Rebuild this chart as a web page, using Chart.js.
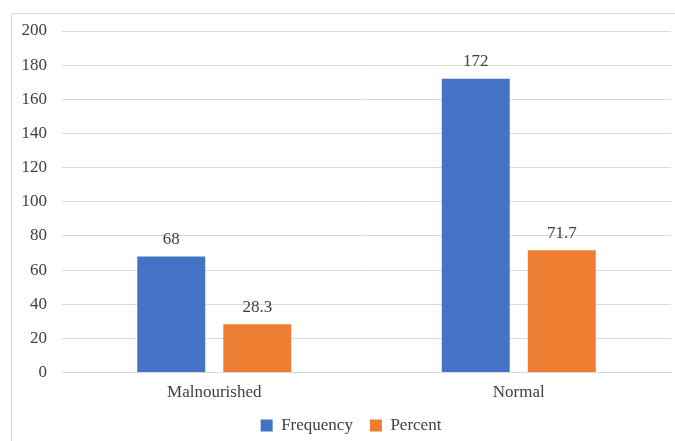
<!DOCTYPE html>
<html>
<head>
<meta charset="utf-8">
<script src="https://cdn.jsdelivr.net/npm/chart.js@4.4.0/dist/chart.umd.min.js"></script>
<style>
  html, body { margin: 0; padding: 0; background: #fff; overflow: hidden; width: 675px; height: 441px; }
  #frame { position: absolute; left: 11px; top: 13px; width: 678px; height: 434px; border: 1px solid #d9d9d9; background: #fff; }
  #frame canvas { display: block; }
</style>
</head>
<body>
<div id="frame"><canvas id="c" width="678" height="434"></canvas></div>
<script>
const categories = ["Malnourished", "Normal"];
const frequencyValues = [68, 172];
const percentValues = [28.3, 71.7];
const frequencyLabels = ["68", "172"];
const percentLabels = ["28.3", "71.7"];
const yTicks = [0, 20, 40, 60, 80, 100, 120, 140, 160, 180, 200];

const FONT = "'Liberation Serif'";
const TEXT = "#404040";

const valueLabels = {
  id: 'valueLabels',
  afterDatasetsDraw(chart) {
    const ctx = chart.ctx;
    ctx.save();
    ctx.font = "17px 'Liberation Serif'";
    ctx.fillStyle = TEXT;
    ctx.textAlign = 'center';
    ctx.textBaseline = 'middle';
    const texts = [frequencyLabels, percentLabels];
    chart.data.datasets.forEach((ds, di) => {
      const meta = chart.getDatasetMeta(di);
      meta.data.forEach((bar, i) => {
        ctx.fillText(texts[di][i], bar.x, bar.y - 17);
      });
    });
    ctx.restore();
  }
};

function build() {
  new Chart(document.getElementById('c'), {
    type: 'bar',
    data: {
      labels: categories,
      datasets: [
        { label: 'Frequency', data: frequencyValues, backgroundColor: '#4472C4',
          categoryPercentage: 0.565, barPercentage: 0.79 },
        { label: 'Percent', data: percentValues, backgroundColor: '#ED7D31',
          categoryPercentage: 0.565, barPercentage: 0.79 }
      ]
    },
    options: {
      responsive: false,
      animation: false,
      devicePixelRatio: 1,
      layout: { padding: { left: 0, right: 0, top: 17, bottom: 4 } },
      plugins: {
        legend: {
          position: 'bottom',
          labels: {
            font: { family: FONT, size: 17 },
            color: TEXT,
            boxWidth: 12,
            boxHeight: 12,
            padding: 17
          }
        },
        tooltip: { enabled: false }
      },
      scales: {
        x: {
          grid: { display: false, drawTicks: false },
          border: { display: true, color: '#d9d9d9', width: 1 },
          ticks: { font: { family: FONT, size: 17 }, color: TEXT, padding: 10 },
          afterFit(scale) { scale.height -= 13; }
        },
        y: {
          min: 0, max: 200,
          afterBuildTicks(scale) { scale.ticks = yTicks.map(v => ({ value: v })); },
          afterFit(scale) { scale.width = 50; scale.paddingTop = 10; },
          grid: { color: '#d9d9d9', drawTicks: false, lineWidth: 1 },
          border: { display: false },
          ticks: { font: { family: FONT, size: 17 }, color: TEXT, padding: 15 }
        },
        yRight: {
          type: 'linear',
          position: 'right',
          min: 0, max: 200,
          grid: { display: false, drawTicks: false },
          border: { display: false },
          ticks: { display: false },
          afterFit(scale) { scale.width = 19; scale.paddingTop = 0; scale.paddingBottom = 0; }
        }
      }
    },
    plugins: [valueLabels]
  });
}

document.fonts.load("17px 'Liberation Serif'").then(build, build);
</script>
</body>
</html>
